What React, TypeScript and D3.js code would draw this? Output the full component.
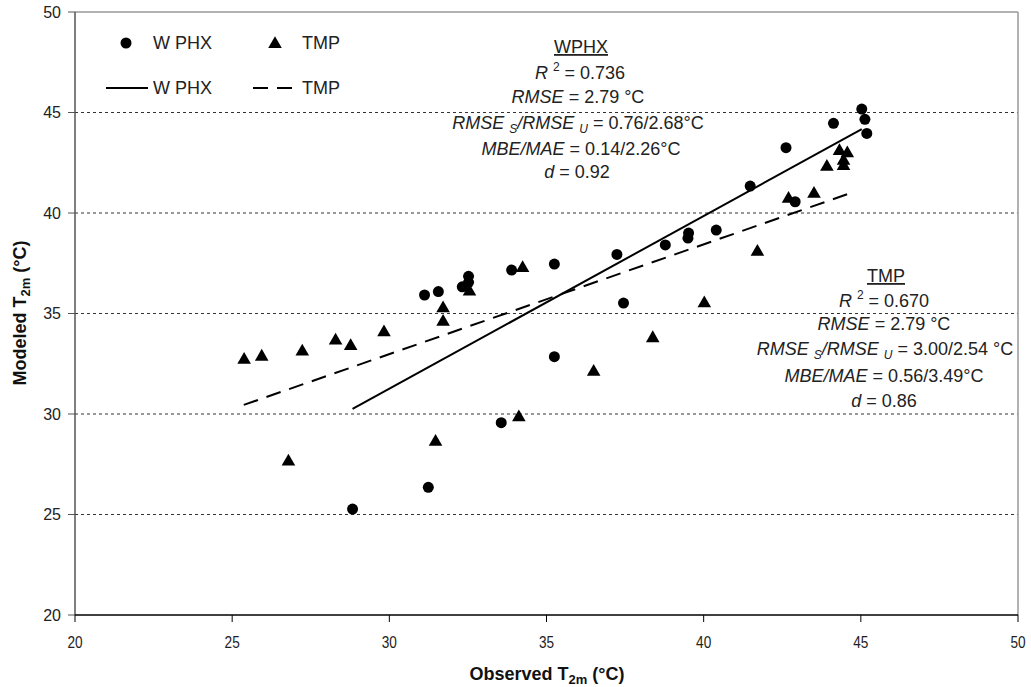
import React from 'react';
import * as d3 from 'd3';

// observed vs modeled 2 m temperature (°C)
const wphxObs = [28.83, 31.24, 33.56, 35.25, 31.12, 31.56, 32.32, 32.52, 32.52, 35.25, 33.89, 37.24, 37.45, 38.78, 39.52, 39.5, 40.4, 41.48, 42.91, 42.62, 44.13, 45.03, 45.13, 45.19];
const wphxMod = [25.27, 26.35, 29.57, 32.85, 35.92, 36.09, 36.33, 36.55, 36.85, 37.46, 37.16, 37.94, 35.52, 38.41, 39.0, 38.75, 39.15, 41.34, 40.56, 43.25, 44.46, 45.17, 44.66, 43.96];
const tmpObs = [25.38, 25.94, 27.23, 28.29, 28.77, 29.83, 31.71, 31.71, 32.55, 26.79, 31.47, 34.12, 34.24, 36.5, 38.38, 40.02, 41.71, 42.7, 43.51, 43.92, 44.32, 44.57, 44.45, 44.45];
const tmpMod = [32.69, 32.85, 33.1, 33.65, 33.38, 34.06, 34.59, 35.26, 36.09, 27.63, 28.62, 29.83, 37.26, 32.1, 33.77, 35.51, 38.07, 40.7, 40.95, 42.3, 43.08, 42.97, 42.34, 42.6];

// linear fits: [slope, intercept], x-range
const wphxFit = [0.859, 5.49];
const wphxFitRange = [28.83, 45.03];
const tmpFit = [0.546, 16.6];
const tmpFitRange = [25.37, 44.57];

const xTicks = [20, 25, 30, 35, 40, 45, 50];
const yTicks = [20, 25, 30, 35, 40, 45, 50];
const gridTicks = [25, 30, 35, 40, 45];

const font = 'Liberation Sans, Arial, sans-serif';

export default function App() {
  const x = d3.scaleLinear().domain([20, 50]).range([75, 1018]);
  const y = d3.scaleLinear().domain([20, 50]).range([615, 12]);
  const circle = d3.symbol().type(d3.symbolCircle).size(95)();
  const tri = d3.symbol().type(d3.symbolTriangle).size(80)();
  const line = d3.line<number>().x(d => x(d[0])).y(d => y(d[1]));
  const fitPts = (f: number[], r: number[]) => r.map(v => [v, f[0] * v + f[1]]);

  return (
    <svg width={1031} height={687} style={{ position: 'absolute', left: 0, top: 0, background: '#fff' }} fontFamily={font}>
      {/* grid */}
      {gridTicks.map(t => (
        <line key={t} x1={x(20)} x2={x(50)} y1={y(t)} y2={y(t)} stroke="#333" strokeWidth={1} strokeDasharray="3,3" />
      ))}
      {/* frame */}
      <line x1={x(20)} x2={x(50)} y1={y(50)} y2={y(50)} stroke="#999" strokeWidth={1.5} />
      <line x1={x(50)} x2={x(50)} y1={y(50)} y2={y(20)} stroke="#999" strokeWidth={1.5} />
      <line x1={x(20)} x2={x(20)} y1={y(50)} y2={y(20)} stroke="#555" strokeWidth={1.5} />
      <line x1={x(20)} x2={x(50)} y1={y(20)} y2={y(20)} stroke="#000" strokeWidth={1.5} />
      {yTicks.map(t => (
        <g key={t}>
          <line x1={68} x2={x(20)} y1={y(t)} y2={y(t)} stroke="#555" />
          <text x={61} y={y(t)} dy="0.35em" textAnchor="end" fontSize={16} fill="#222">{t}</text>
        </g>
      ))}
      {xTicks.map(t => (
        <g key={t}>
          <line x1={x(t)} x2={x(t)} y1={y(20)} y2={622} stroke="#000" />
          <text transform={`translate(${x(t)},648) scale(0.85,1)`} textAnchor="middle" fontSize={16} fill="#222">{t}</text>
        </g>
      ))}
      {/* axis titles */}
      <text x={547} y={680} textAnchor="middle" fontSize={18} fontWeight="bold" fill="#111">
        Observed T<tspan fontSize={13} dy={4}>2m</tspan><tspan dy={-4}> (°C)</tspan>
      </text>
      <text transform="translate(26,313) rotate(-90)" textAnchor="middle" fontSize={18} fontWeight="bold" fill="#111">
        Modeled T<tspan fontSize={13} dy={4}>2m</tspan><tspan dy={-4}> (°C)</tspan>
      </text>

      {/* fit lines */}
      <path d={line(fitPts(wphxFit, wphxFitRange) as any) || ''} stroke="#000" strokeWidth={2} fill="none" />
      <path d={line(fitPts(tmpFit, tmpFitRange) as any) || ''} stroke="#000" strokeWidth={2} fill="none" strokeDasharray="15,9" />

      {/* points */}
      {wphxObs.map((v, i) => (
        <path key={'w' + i} d={circle || ''} transform={`translate(${x(v)},${y(wphxMod[i])})`} fill="#000" />
      ))}
      {tmpObs.map((v, i) => (
        <path key={'t' + i} d={tri || ''} transform={`translate(${x(v)},${y(tmpMod[i])})`} fill="#000" />
      ))}

      {/* legend */}
      <g fontSize={18} fill="#222">
        <path d={circle || ''} transform="translate(126,43)" fill="#000" />
        <text x={153} y={49}>W PHX</text>
        <path d={tri || ''} transform="translate(275,44)" fill="#000" />
        <text x={302} y={49}>TMP</text>
        <line x1={106} x2={148} y1={88} y2={88} stroke="#000" strokeWidth={2} />
        <text x={153} y={94}>W PHX</text>
        <line x1={253} x2={295} y1={88} y2={88} stroke="#000" strokeWidth={2} strokeDasharray="15,9" />
        <text x={302} y={94}>TMP</text>
      </g>

      {/* stats WPHX */}
      <g fontSize={18} fill="#222" textAnchor="middle">
        <text x={581} y={53} textDecoration="underline">WPHX</text>
        <text x={580} y={79}><tspan fontStyle="italic">R </tspan><tspan fontSize={12} dy={-8}>2</tspan><tspan dy={8}> = 0.736</tspan></text>
        <text x={578} y={103}><tspan fontStyle="italic">RMSE </tspan> = 2.79 °C</text>
        <text x={578} y={129}><tspan fontStyle="italic">RMSE </tspan><tspan fontStyle="italic" fontSize={12} dy={4}>S</tspan><tspan fontStyle="italic" dy={-4}>/RMSE </tspan><tspan fontStyle="italic" fontSize={12} dy={4}>U</tspan><tspan dy={-4}> = 0.76/2.68°C</tspan></text>
        <text x={581} y={155}><tspan fontStyle="italic">MBE/MAE </tspan> = 0.14/2.26°C</text>
        <text x={577} y={178}><tspan fontStyle="italic">d </tspan> = 0.92</text>
      </g>

      {/* stats TMP */}
      <g fontSize={18} fill="#222" textAnchor="middle">
        <text x={886} y={282} textDecoration="underline">TMP</text>
        <text x={884} y={307}><tspan fontStyle="italic">R </tspan><tspan fontSize={12} dy={-8}>2</tspan><tspan dy={8}> = 0.670</tspan></text>
        <text x={884} y={330}><tspan fontStyle="italic">RMSE </tspan> = 2.79 °C</text>
        <text x={885} y={355}><tspan fontStyle="italic">RMSE </tspan><tspan fontStyle="italic" fontSize={12} dy={4}>S</tspan><tspan fontStyle="italic" dy={-4}>/RMSE </tspan><tspan fontStyle="italic" fontSize={12} dy={4}>U</tspan><tspan dy={-4}> = 3.00/2.54 °C</tspan></text>
        <text x={884} y={382}><tspan fontStyle="italic">MBE/MAE </tspan> = 0.56/3.49°C</text>
        <text x={884} y={407}><tspan fontStyle="italic">d </tspan> = 0.86</text>
      </g>
    </svg>
  );
}
